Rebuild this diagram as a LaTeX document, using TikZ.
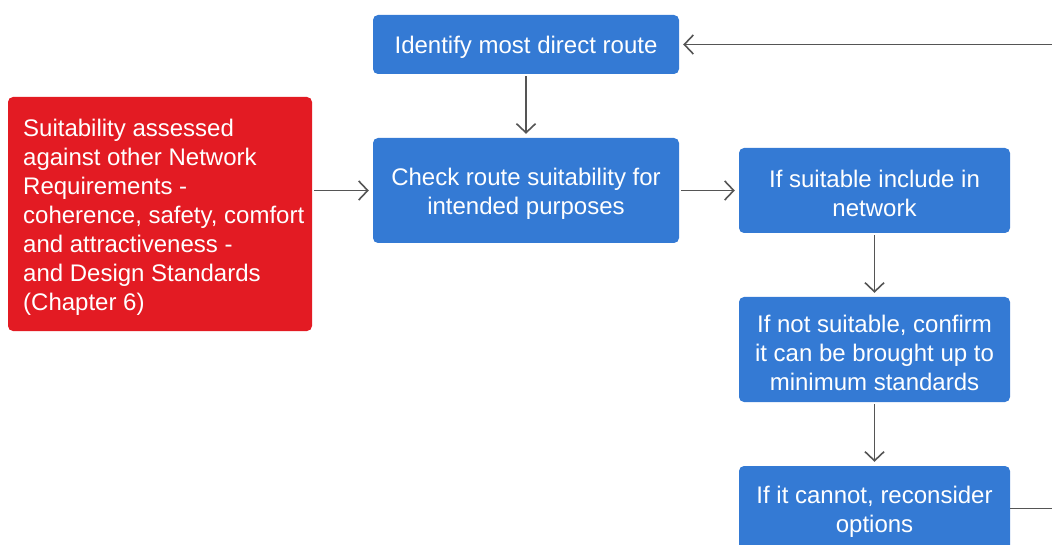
\documentclass[tikz,border=0pt]{standalone}
\usepackage{fontspec}
\setmainfont{Liberation Sans}
\usetikzlibrary{arrows.meta}
\definecolor{boxblue}{RGB}{52,122,212}
\definecolor{boxred}{RGB}{227,27,35}
\definecolor{linegray}{RGB}{85,85,85}
\newcommand\mytopstrut{\rule{0pt}{23.5pt}}
\tikzset{
  flowbox/.style={rectangle, rounded corners=5pt, fill=boxblue, text=white, align=center, inner sep=0pt,
    font=\fontsize{24}{29}\selectfont},
  redbox/.style={rectangle, rounded corners=5pt, fill=boxred, text=white, inner sep=0pt},
  conn/.style={draw=linegray, line width=1.8pt, -{Straight Barb[length=9pt,width=19pt,line width=1.6pt]}, shorten >=4pt, shorten <=2pt},
  plainconn/.style={draw=linegray, line width=1.8pt}
}
\begin{document}
\begin{tikzpicture}[x=1pt,y=-1pt]
\useasboundingbox (0,0) rectangle (1052,545);
\node[flowbox, minimum width=306pt, minimum height=59pt] (identify) at (526,44.5) {\mytopstrut Identify most direct route};
\node[flowbox, minimum width=306pt, minimum height=105pt] (check) at (526,190.5) {\mytopstrut Check route suitability for\\intended purposes};
\node[redbox, minimum width=304pt, minimum height=234pt] (red) at (160,214) {};
\node[anchor=north west, text=white, align=left, inner sep=0pt, font=\fontsize{24}{29}\selectfont] (redtext) at (23,119) {Suitability assessed\\against other Network\\Requirements -\\coherence, safety, comfort\\and attractiveness -\\and Design Standards\\(Chapter 6)};
\node[flowbox, minimum width=271pt, minimum height=85pt] (suit) at (874.5,190.5) {\mytopstrut If suitable include in\\network};
\node[flowbox, minimum width=271pt, minimum height=105pt] (notsuit) at (874.5,349.5) {\mytopstrut If not suitable, confirm\\it can be brought up to\\minimum standards};
\node[flowbox, minimum width=271pt, minimum height=85pt] (cannot) at (874.5,508.5) {\mytopstrut If it cannot, reconsider\\options};
\coordinate (topright) at (1052,44.5);
\coordinate (botright) at (1052,508.5);
\draw[conn, shorten <=0pt] (topright) -- (identify.east);
\draw[conn] (identify.south) -- (check.north);
\draw[conn] (red.east |- check.east) -- (check.west);
\draw[conn] (check.east) -- (suit.west);
\draw[conn] (suit.south) -- (notsuit.north);
\draw[conn] (notsuit.south) -- (cannot.north);
\draw[plainconn] (cannot.east) -- (botright);
\end{tikzpicture}
\end{document}
